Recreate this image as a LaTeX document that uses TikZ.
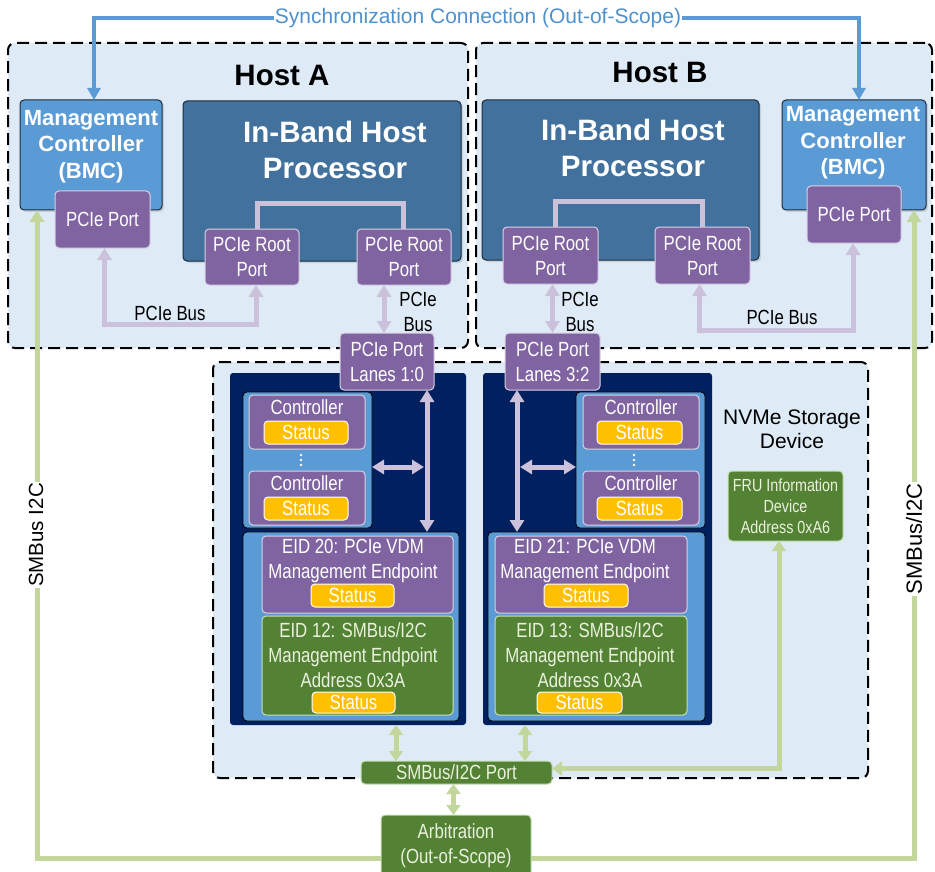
\documentclass[tikz,border=0pt]{standalone}
\usepackage{fontspec}
\setmainfont{Liberation Sans}
\newfontfamily\narrowfont[FakeStretch=0.82]{Liberation Sans}
\usetikzlibrary{arrows.meta,calc,shadows}

\definecolor{hostbg}{HTML}{DEEBF7}
\definecolor{bmcblue}{HTML}{5B9BD5}
\definecolor{procblue}{HTML}{41719C}
\definecolor{navyfill}{HTML}{002060}
\definecolor{purp}{HTML}{8064A2}
\definecolor{pbuscol}{HTML}{CCC1DA}
\definecolor{statfill}{HTML}{FFC000}
\definecolor{grn}{HTML}{548235}
\definecolor{grnedge}{HTML}{C5E0B4}
\definecolor{gtext}{HTML}{EAF1DD}
\definecolor{glight}{HTML}{C3D69B}
\definecolor{edgedark}{HTML}{1C2B3C}
\definecolor{synctext}{HTML}{4F91CD}

\newcommand\lblfont{\narrowfont\fontsize{20.5}{25}\selectfont}
\newcommand\frufont{\narrowfont\fontsize{17.5}{21}\selectfont}
% box given by its left, top, right and bottom edges
\newcommand\rbox[7]{%
  \pgfmathsetmacro\rbw{(#5)-(#3)}\pgfmathsetmacro\rbh{(#6)-(#4)}%
  \pgfmathsetmacro\rbx{((#3)+(#5))/2}\pgfmathsetmacro\rby{((#4)+(#6))/2}%
  \node[#1, minimum width=\rbw pt, minimum height=\rbh pt] (#2) at (\rbx,\rby) {#7};}

\begin{document}
\begin{tikzpicture}[x=1pt,y=-1pt,
  rbx/.style={inner sep=0pt, outer sep=0pt, rounded corners=4pt, align=center},
  hostbox/.style={rbx, draw=black, line width=2pt, dash pattern=on 12pt off 6pt, fill=hostbg, rounded corners=7pt},
  bmcbox/.style={rbx, fill=bmcblue, draw=edgedark, line width=1pt, drop shadow={opacity=0.25, shadow xshift=2pt, shadow yshift=-2pt}},
  procbox/.style={rbx, fill=procblue, draw=edgedark, line width=1pt, drop shadow={opacity=0.25, shadow xshift=2pt, shadow yshift=-2pt}},
  purplebox/.style={rbx, fill=purp, draw=white!70!purp, line width=1pt, text=white, font=\lblfont},
  greenbox/.style={rbx, fill=grn, draw=grnedge, line width=1pt, text=gtext, font=\lblfont},
  statusbox/.style={rbx, fill=statfill, draw=white, line width=1pt, text=white, font=\lblfont},
  navybox/.style={rbx, fill=navyfill, rounded corners=3pt},
  groupbox/.style={rbx, fill=bmcblue, draw=black, line width=0.8pt},
  hosttitle/.style={font=\bfseries\fontsize{29.5}{36}\selectfont, inner sep=0pt},
  bmctext/.style={font=\bfseries\fontsize{22}{26.5}\selectfont, text=white, align=center, inner sep=0pt},
  proctext/.style={font=\bfseries\fontsize{29.5}{36}\selectfont, text=white, align=center, inner sep=0pt},
  lbltext/.style={font=\lblfont, text=white, align=center, inner sep=0pt},
  blacklbl/.style={font=\lblfont, text=black, align=center, inner sep=0pt},
  plainlbl/.style={font=\fontsize{21}{24}\selectfont, text=black, align=center, inner sep=0pt},
  pbus/.style={draw=pbuscol, line width=5pt},
  pbusarr/.style={pbus, {Triangle[width=14pt,length=12pt]}-{Triangle[width=14pt,length=12pt]}},
  gline/.style={draw=glight, line width=5pt},
  garr/.style={gline, -{Triangle[width=14pt,length=12pt]}},
  garr2/.style={gline, {Triangle[width=14pt,length=10pt]}-{Triangle[width=14pt,length=10pt]}},
  syncline/.style={draw=bmcblue, line width=4pt, -{Triangle[width=13pt,length=12pt]}},
  dot/.style={circle, fill=white, inner sep=0pt, minimum size=2.6pt}
]
\useasboundingbox (0,0) rectangle (935,872);

% ---------- dashed enclosures ----------
\rbox{hostbox}{hostA}{8}{43}{468}{348}{}
\rbox{hostbox}{hostB}{476}{43}{932}{348}{}
\rbox{hostbox}{nvme}{213}{362}{868}{778}{}

\node[hosttitle] (titleA) at (282,75) {Host A};
\node[hosttitle] (titleB) at (660,72) {Host B};

% ---------- Host A ----------
\rbox{bmcbox}{bmcA}{20}{100}{162}{210}{}
\node[bmctext] (bmcAtxt) at (91,146.5) {Management\\Controller\\(BMC)};
\rbox{purplebox}{portA}{55}{191}{150}{248}{PCIe Port}
\rbox{procbox}{procA}{183}{101}{461}{261}{}
\node[proctext] (procAtxt) at (335,150) {In-Band Host\\Processor};
\rbox{purplebox}{rootA1}{205}{229}{299}{285}{PCIe Root\\Port}
\rbox{purplebox}{rootA2}{357}{229}{451}{285}{PCIe Root\\Port}
\draw[pbus] ([xshift=5pt]rootA1.north) -- ++(0,-25) -| ([xshift=-1pt]rootA2.north);

% ---------- Host B ----------
\rbox{procbox}{procB}{482}{100}{759}{260}{}
\node[proctext] (procBtxt) at (633,147.5) {In-Band Host\\Processor};
\rbox{bmcbox}{bmcB}{782}{100}{926}{210}{}
\node[bmctext] (bmcBtxt) at (853,143) {Management\\Controller\\(BMC)};
\rbox{purplebox}{portB}{807}{186}{901}{243}{PCIe Port}
\rbox{purplebox}{rootB1}{503}{227}{598}{284}{PCIe Root\\Port}
\rbox{purplebox}{rootB2}{655}{227}{750}{284}{PCIe Root\\Port}
\draw[pbus] ([xshift=4.5pt]rootB1.north) -- ++(0,-25) -| ([xshift=-0.5pt]rootB2.north);

% ---------- NVMe storage device ----------
\rbox{navybox}{navyA}{230}{373}{466}{725}{}
\rbox{groupbox}{grpA}{243}{392}{372}{528}{}
\rbox{purplebox}{ctlA1}{249}{395}{365}{449}{}
\node[lbltext] (ctlA1t) at (307,407) {Controller};
\rbox{statusbox}{stA1}{264}{421}{348}{444}{Status}
\node[dot] (dA1) at (301,455) {};
\node[dot] (dA2) at (301,460) {};
\node[dot] (dA3) at (301,465) {};
\rbox{purplebox}{ctlA2}{249}{471}{365}{525}{}
\node[lbltext] (ctlA2t) at (307,483) {Controller};
\rbox{statusbox}{stA2}{264}{497}{348}{520}{Status}
\rbox{groupbox}{lowA}{243}{532}{459}{721}{}
\rbox{purplebox}{eidA}{262}{536}{453}{613}{}
\node[lbltext] (eidAt) at (353,560.5) {EID 20: PCIe VDM\\Management Endpoint};
\rbox{statusbox}{stA3}{311}{584}{394}{607}{Status}
\rbox{greenbox}{smA}{262}{616}{453}{715}{}
\node[lbltext, text=gtext] (smAt) at (353,655) {EID 12: SMBus/I2C\\Management Endpoint\\Address 0x3A};
\rbox{statusbox}{stA4}{312}{692}{395}{713}{Status}

\rbox{navybox}{navyB}{483}{373}{712}{725}{}
\rbox{groupbox}{grpB}{576}{392}{705}{528}{}
\rbox{purplebox}{ctlB1}{583}{395}{699}{449}{}
\node[lbltext] (ctlB1t) at (641,407) {Controller};
\rbox{statusbox}{stB1}{597}{421}{682}{444}{Status}
\node[dot] (dB1) at (634,455) {};
\node[dot] (dB2) at (634,460) {};
\node[dot] (dB3) at (634,465) {};
\rbox{purplebox}{ctlB2}{583}{471}{699}{525}{}
\node[lbltext] (ctlB2t) at (641,483) {Controller};
\rbox{statusbox}{stB2}{597}{497}{682}{520}{Status}
\rbox{groupbox}{lowB}{488}{532}{705}{721}{}
\rbox{purplebox}{eidB}{495}{536}{687}{613}{}
\node[lbltext] (eidBt) at (585,560.5) {EID 21: PCIe VDM\\Management Endpoint};
\rbox{statusbox}{stB3}{544}{584}{628}{607}{Status}
\rbox{greenbox}{smB}{495}{616}{687}{715}{}
\node[lbltext, text=gtext] (smBt) at (590,655) {EID 13: SMBus/I2C\\Management Endpoint\\Address 0x3A};
\rbox{statusbox}{stB4}{537}{692}{622}{713}{Status}

\node[plainlbl] (nvmeLbl) at (792,429) {NVMe Storage\\Device};
\rbox{greenbox, font=\frufont}{fru}{728}{471}{843}{541}{FRU Information\\Device\\Address 0xA6}

\rbox{purplebox}{lanesA}{340}{333}{434}{390}{PCIe Port\\Lanes 1:0}
\rbox{purplebox}{lanesB}{505}{333}{600}{390}{PCIe Port\\Lanes 3:2}

\rbox{greenbox}{smport}{361}{761}{552}{784}{SMBus/I2C Port}
\rbox{greenbox}{arb}{381}{815}{531}{876}{Arbitration\\(Out-of-Scope)}

% ---------- PCIe connections ----------
\coordinate (busAy) at (0,324);
\draw[pbusarr] ([xshift=2pt]portA.south) -- ([xshift=2pt]portA.south |- busAy) -| ([xshift=4pt]rootA1.south);
\node[blacklbl] (busAlbl) at (170,313) {PCIe Bus};
\draw[pbusarr] ([xshift=-3pt]lanesA.north) -- ([xshift=-3pt]lanesA.north |- rootA2.south);
\node[blacklbl] (vbusAlbl) at (418,312) {PCIe\\Bus};

\coordinate (busBy) at (0,330);
\draw[pbusarr] ([xshift=-3pt]rootB2.south) -- ([xshift=-3pt]rootB2.south |- busBy) -| ([xshift=-1pt]portB.south);
\node[blacklbl] (busBlbl) at (782,317) {PCIe Bus};
\draw[pbusarr] (lanesB.north) -- (lanesB.north |- rootB1.south);
\node[blacklbl] (vbusBlbl) at (580,312) {PCIe\\Bus};

\coordinate (vAx) at (427,0);
\draw[pbusarr] (vAx |- lanesA.south) -- (vAx |- lowA.north);
\coordinate (hA) at (424,467);
\draw[pbusarr] (grpA.east |- hA) -- (hA);

\coordinate (vBx) at (517,0);
\draw[pbusarr] (vBx |- lanesB.south) -- (vBx |- lowB.north);
\coordinate (hB) at (520,467);
\draw[pbusarr] (hB) -- (grpB.west |- hB);

% ---------- SMBus connections ----------
\coordinate (gAx) at (396,0);
\draw[garr2] (gAx |- navyA.south) -- (gAx |- smport.north);
\coordinate (gBx) at (525,0);
\draw[garr2] (gBx |- navyB.south) -- (gBx |- smport.north);
\draw[garr2] ([xshift=-3pt]smport.south) -- ([xshift=-3pt]smport.south |- arb.north);
\draw[garr2] ([yshift=4pt]smport.east) -| ([xshift=-6.5pt]fru.south);

\coordinate (botY) at (0,858);
\coordinate (lX) at (37,0);
\coordinate (rX) at (914,0);
\draw[garr] (arb.west |- botY) -- (lX |- botY) -- (lX |- bmcA.south);
\draw[garr] (arb.east |- botY) -- (rX |- botY) -- (rX |- bmcB.south);
\node[font=\fontsize{20.5}{24}\selectfont, rotate=90, fill=white, inner sep=1pt] (smlblL) at (36,535) {SMBus I2C};
\node[font=\fontsize{22}{26}\selectfont, rotate=90, fill=white, inner sep=1pt] (smlblR) at (914,539) {SMBus/I2C};

% ---------- synchronization link ----------
\node[font=\fontsize{21}{25}\selectfont, text=synctext, fill=white, inner sep=1pt] (sync) at (478,18) {Synchronization Connection (Out-of-Scope)};
\draw[syncline] (sync.west) -| ([xshift=3pt]bmcA.north);
\draw[syncline] (sync.east) -| ([xshift=5pt]bmcB.north);
\end{tikzpicture}
\end{document}
